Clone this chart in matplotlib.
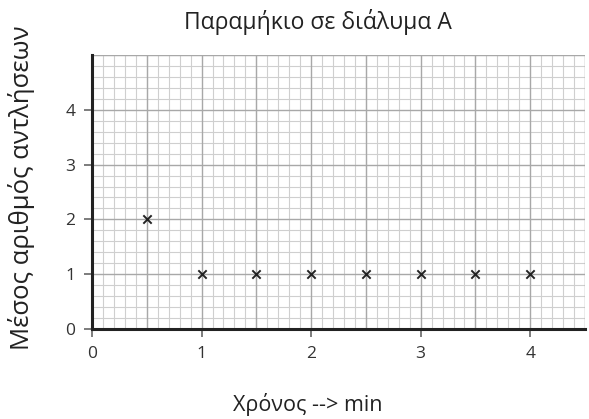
import matplotlib
matplotlib.use("Agg")
import matplotlib.pyplot as plt
from matplotlib.ticker import MultipleLocator

plt.rcParams['font.family'] = ['Open Sans', 'DejaVu Sans']

# data
time_min = [0.5, 1.0, 1.5, 2.0, 2.5, 3.0, 3.5, 4.0]
mean_pumps = [2, 1, 1, 1, 1, 1, 1, 1]
x_ticks = [0, 1, 2, 3, 4]
y_ticks = [0, 1, 2, 3, 4]

title = "Παραμήκιο σε διάλυμα Α"
xlabel = "Χρόνος --> min"
ylabel = "Μέσος αριθμός αντλήσεων"

fig = plt.figure(figsize=(5.89, 4.19), dpi=100)
ax = fig.add_axes([92/589, 1-329/419, (585-92)/589, (329-55)/419])

ax.set_xlim(0, 4.5)
ax.set_ylim(0, 5)

# graph paper grid
ax.xaxis.set_minor_locator(MultipleLocator(0.1))
ax.yaxis.set_minor_locator(MultipleLocator(0.2))
ax.grid(which='minor', color='#cfcfcf', linewidth=0.8)
for v in [i * 0.5 for i in range(10)]:
    ax.axvline(v, color='#a8a8a8', linewidth=1.0, zorder=0.6)
for v in range(6):
    ax.axhline(v, color='#a8a8a8', linewidth=1.0, zorder=0.6)
ax.set_axisbelow(True)

ax.scatter(time_min, mean_pumps, marker='x', color='#222222', s=36, linewidths=1.4, zorder=3)

ax.set_xticks(x_ticks)
ax.set_yticks(y_ticks)
ax.tick_params(which='major', direction='out', length=6, width=1.2, color='#666666',
               labelcolor='#333333', labelsize=12.5, pad=6)
ax.tick_params(which='minor', length=0)

for s in ['top', 'right']:
    ax.spines[s].set_visible(False)
for s in ['left', 'bottom']:
    ax.spines[s].set_linewidth(2.2)
    ax.spines[s].set_color('#222222')

fig.text(318/589, 1-22/419, title, ha='center', va='center', fontsize=16.5, color='#222222')
fig.text(308/589, 1-404/419, xlabel, ha='center', va='center', fontsize=15.5, color='#222222')
fig.text(22/589, 1-188/419, ylabel, ha='center', va='center', rotation=90, fontsize=18.5, color='#222222')

fig.savefig("out.png", dpi=100)
